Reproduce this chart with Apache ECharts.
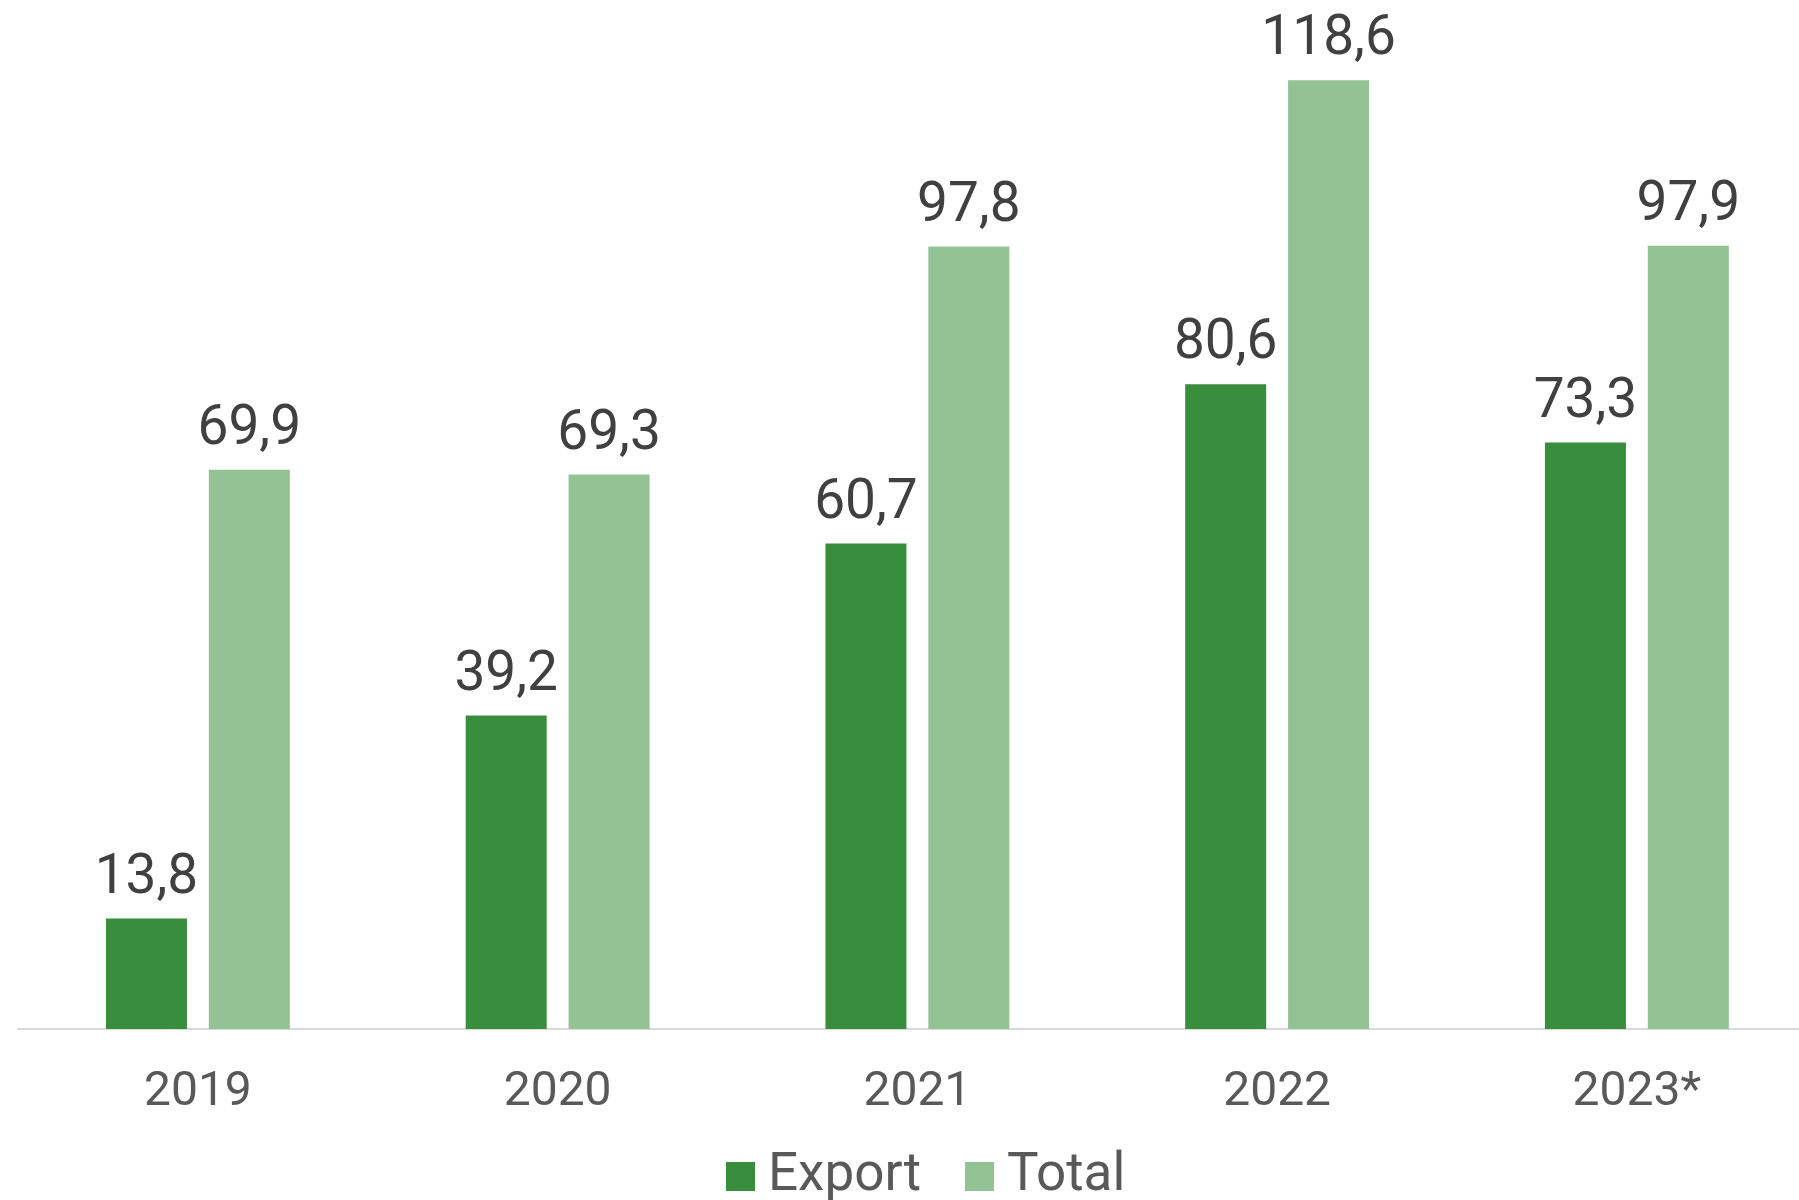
<!DOCTYPE html>
<html>
<head>
<meta charset="utf-8">
<script src="https://cdn.jsdelivr.net/npm/echarts@6/dist/echarts.min.js"></script>
<style>
html,body{margin:0;padding:0;background:#fff;overflow:hidden;width:1799px;height:1200px;}
#chart{width:1817px;height:1200px;}
</style>
</head>
<body>
<div id="chart"></div>
<script>
var categories = ['2019', '2020', '2021', '2022', '2023*'];
var exportValues = [13.8, 39.2, 60.7, 80.6, 73.3];
var totalValues = [69.9, 69.3, 97.8, 118.6, 97.9];
var seriesNames = ['Export', 'Total'];

var chart = echarts.init(document.getElementById('chart'));
var fmt = function (p) { return p.value.toFixed(1).replace('.', ','); };
var labelStyle = {
  show: true,
  position: 'top',
  distance: 12,
  formatter: fmt,
  fontFamily: 'Roboto',
  fontSize: 55,
  lineHeight: 55,
  color: '#404040'
};
chart.setOption({
  animation: false,
  backgroundColor: '#ffffff',
  grid: { left: 18, width: 1798.75, top: 29, height: 1000, containLabel: false, outerBoundsMode: 'none' },
  legend: {
    data: seriesNames,
    left: 726,
    top: 1150,
    padding: 0,
    itemWidth: 29,
    itemHeight: 29,
    itemGap: 44,
    icon: 'rect',
    textStyle: { fontFamily: 'Roboto', fontSize: 53, lineHeight: 53, color: '#595959', padding: [0, 0, 0, 8] }
  },
  xAxis: {
    type: 'category',
    data: categories,
    axisLine: { show: true, lineStyle: { color: '#d9d9d9', width: 2 } },
    axisTick: { show: false },
    axisLabel: { fontFamily: 'Roboto', fontSize: 48, lineHeight: 48, color: '#595959', margin: 40 }
  },
  yAxis: {
    type: 'value',
    min: 0,
    max: 125,
    show: false,
    splitLine: { show: false }
  },
  series: [
    {
      name: seriesNames[0],
      type: 'bar',
      data: exportValues,
      barWidth: 81,
      barGap: '27%',
      itemStyle: { color: '#388E3C' },
      label: labelStyle
    },
    {
      name: seriesNames[1],
      type: 'bar',
      data: totalValues,
      barWidth: 81,
      barGap: '27%',
      itemStyle: { color: '#93C295' },
      label: labelStyle
    }
  ]
});
</script>
</body>
</html>
